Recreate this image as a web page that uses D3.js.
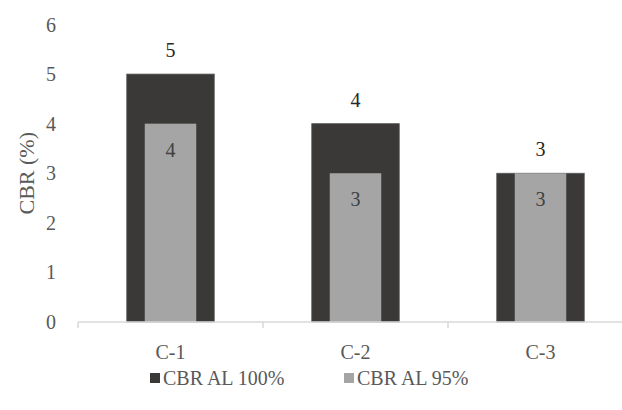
<!DOCTYPE html>
<html><head><meta charset="utf-8">
<script src="https://cdn.jsdelivr.net/npm/d3@7"></script>
<style>html,body{margin:0;padding:0;background:#fff;}</style>
</head><body>
<svg id="c" width="622" height="410"></svg>
<script>
const categories = ["C-1", "C-2", "C-3"];
const series100 = [5, 4, 3];
const series95 = [4, 3, 3];
const yTicks = [0, 1, 2, 3, 4, 5, 6];
const seriesNames = ["CBR AL 100%", "CBR AL 95%"];

// pick an available serif font by measuring
function pickFont() {
  const cands = ["Liberation Serif", "Times New Roman", "Times", "DejaVu Serif", "serif"];
  const c = document.createElement("canvas").getContext("2d");
  const s = "CBR AL 100% mmmWWWiii";
  c.font = "40px monospace"; const wm = c.measureText(s).width;
  c.font = "40px sans-serif"; const ws = c.measureText(s).width;
  for (const f of cands) {
    c.font = `40px "${f}", monospace`; const a = c.measureText(s).width;
    c.font = `40px "${f}", sans-serif`; const b = c.measureText(s).width;
    if (a === b && a !== ws) return `"${f}"`;
  }
  return "serif";
}
const font = pickFont();

const svg = d3.select("#c");
const fs = 20;
const textColor = "#595959";
const x = d3.scaleBand().domain(categories).range([78, 633]);
const y = d3.scaleLinear().domain([0, 6]).range([322, 24.5]);
const darkW = 87.5, lightW = 51.5;
const darkC = "#3a3937", lightC = "#a5a5a5";

svg.append("g").selectAll("text").data(yTicks).join("text")
  .attr("x", 56).attr("y", d => y(d)).attr("dy", "0.35em")
  .attr("text-anchor", "end").attr("font-family", font).attr("font-size", fs)
  .attr("fill", textColor).text(d => d);

svg.append("text").attr("transform", `translate(34,${(y(0)+y(6))/2}) rotate(-90)`)
  .attr("text-anchor", "middle").attr("font-family", font).attr("font-size", 22)
  .attr("fill", textColor).text("CBR (%)");

svg.append("g").selectAll("rect").data(series100).join("rect")
  .attr("x", (d,i) => x(categories[i]) + x.bandwidth()/2 - darkW/2)
  .attr("width", darkW)
  .attr("y", d => y(d)).attr("height", d => y(0) - y(d))
  .attr("fill", darkC).attr("stroke", "#5a5a5a").attr("stroke-width", 0.8);

svg.append("g").selectAll("rect").data(series95).join("rect")
  .attr("x", (d,i) => x(categories[i]) + x.bandwidth()/2 - lightW/2)
  .attr("width", lightW)
  .attr("y", d => y(d)).attr("height", d => y(0) - y(d))
  .attr("fill", lightC);

const ax = svg.append("g").attr("transform", `translate(0,${y(0)})`)
  .call(d3.axisBottom(x).tickSize(0).tickFormat(""));
ax.select(".domain").attr("stroke", "#d9d9d9").attr("stroke-width", 1.5).attr("d", `M78,0H633`);
const bounds = [78, ...categories.map(c => x(c) + x.bandwidth())];
svg.append("g").selectAll("line").data(bounds).join("line")
  .attr("x1", d => d).attr("x2", d => d).attr("y1", y(0)).attr("y2", y(0) + 6)
  .attr("stroke", "#d9d9d9").attr("stroke-width", 1.5);

svg.append("g").selectAll("text").data(categories).join("text")
  .attr("x", d => x(d) + x.bandwidth()/2).attr("y", 352).attr("dy", "0.35em")
  .attr("text-anchor", "middle").attr("font-family", font).attr("font-size", fs)
  .attr("fill", textColor).text(d => d);

svg.append("g").selectAll("text").data(series100).join("text")
  .attr("x", (d,i) => x(categories[i]) + x.bandwidth()/2).attr("y", d => y(d) - 24).attr("dy", "0.35em")
  .attr("text-anchor", "middle").attr("font-family", font).attr("font-size", fs)
  .attr("fill", "#262626").text(d => d);
svg.append("g").selectAll("text").data(series95).join("text")
  .attr("x", (d,i) => x(categories[i]) + x.bandwidth()/2).attr("y", d => y(d) + 26).attr("dy", "0.35em")
  .attr("text-anchor", "middle").attr("font-family", font).attr("font-size", fs)
  .attr("fill", "#404040").text(d => d);

const legX = [150, 344];
const legColors = [darkC, lightC];
const lg = svg.append("g").selectAll("g").data(seriesNames).join("g")
  .attr("transform", (d,i) => `translate(${legX[i]},378)`);
lg.append("rect").attr("x", 0).attr("y", -5).attr("width", 10).attr("height", 10)
  .attr("fill", (d,i) => legColors[i]);
lg.append("text").attr("x", 13).attr("y", 0).attr("dy", "0.35em")
  .attr("font-family", font).attr("font-size", fs).attr("fill", textColor).text(d => d);
</script>
</body></html>
